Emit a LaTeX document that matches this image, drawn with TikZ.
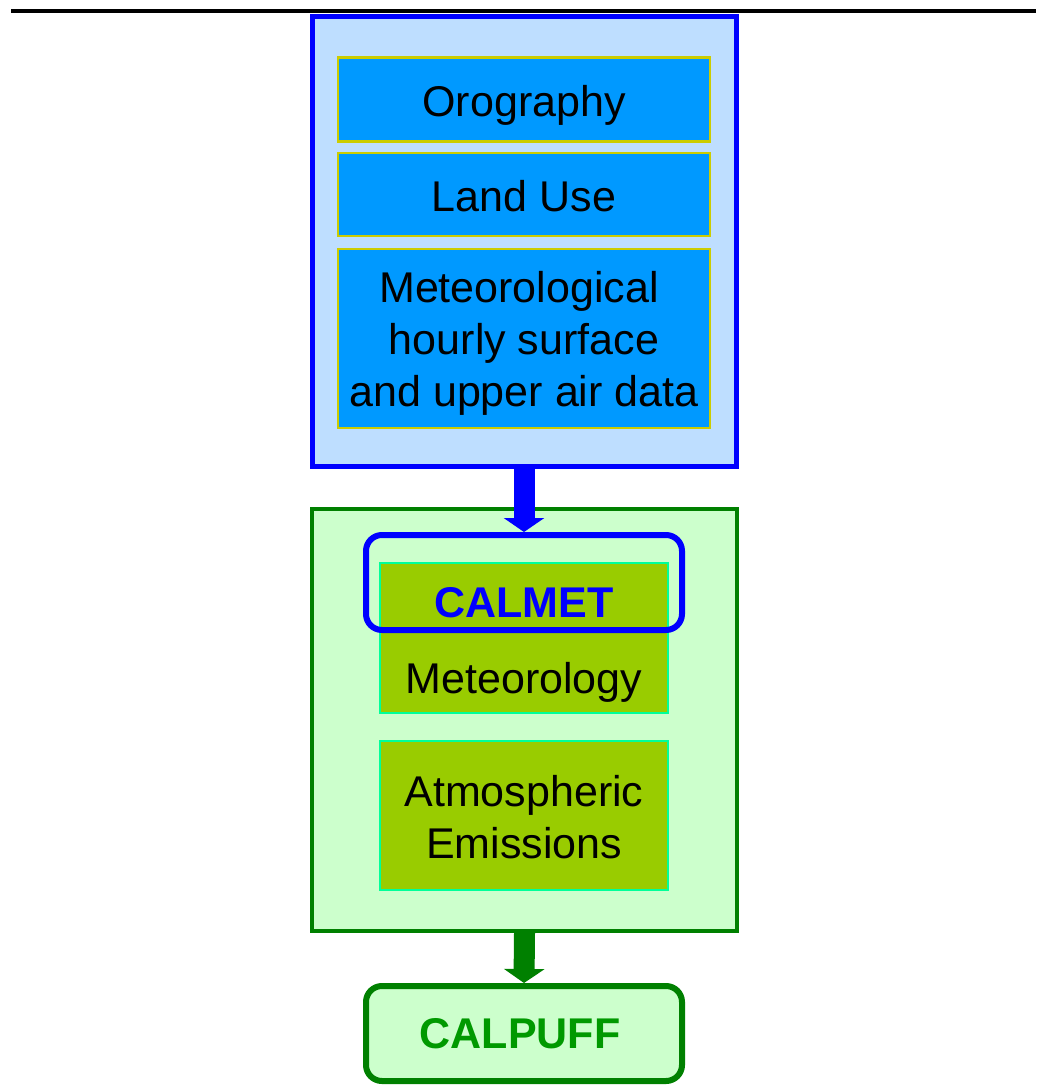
\documentclass[tikz,border=0pt]{standalone}
\usepackage{fontspec}
\setmainfont{Liberation Sans}
\usetikzlibrary{arrows.meta}
\definecolor{paleblue}{RGB}{190,222,255}
\definecolor{skyfill}{RGB}{0,153,255}
\definecolor{olivebd}{RGB}{204,204,0}
\definecolor{palegreen}{RGB}{204,255,204}
\definecolor{darkgreen}{RGB}{0,128,0}
\definecolor{limefill}{RGB}{153,204,0}
\definecolor{aquabd}{RGB}{0,255,153}
\definecolor{puffgreen}{RGB}{0,153,0}
\tikzset{
  bigfont/.style={font=\fontsize{43}{52}\selectfont},
  outerblue/.style={draw=blue, fill=paleblue, line width=5pt, inner sep=0pt},
  outergreen/.style={draw=darkgreen, fill=palegreen, line width=4pt, inner sep=0pt},
  datbox/.style={draw=olivebd, fill=skyfill, line width=2.5pt, inner sep=0pt, minimum width=372pt},
  modbox/.style={draw=aquabd, fill=limefill, line width=2pt, inner sep=0pt, minimum width=288pt},
  lbl/.style={bigfont, inner sep=0pt, align=center},
  flowarrow/.style={line width=21pt, -{Triangle[width=40pt,length=14pt]}},
}
\begin{document}
\begin{tikzpicture}[x=1pt,y=-1pt]
\useasboundingbox (0,0) rectangle (1036,1091);
\coordinate (ls) at (11,11);
\coordinate (le) at (1036,11);
\draw[line width=4pt] (ls) -- (le);

\node[outerblue, minimum width=424pt, minimum height=449pt] (topbox) at (524,241.5) {};
\node[datbox, minimum height=84pt] (oro) at (524,99.5) {};
\node[lbl] (orolbl) at (524,105) {Orography};
\node[datbox, minimum height=83pt] (land) at (524,194.5) {};
\node[lbl] (landlbl) at (524,196.5) {Land Use};
\node[datbox, minimum height=179pt] (met) at (524,338.5) {};
\node[lbl] (metlbl1) at (524,343.5) {Meteorological\hspace*{10pt}\\hourly surface\hspace*{12pt}\\and upper air data};

\node[outergreen, minimum width=425pt, minimum height=422pt] (midbox) at (524.5,720) {};
\node[modbox, minimum height=150pt] (calmetbox) at (524,638) {};
\node[modbox, minimum height=149pt] (emisbox) at (524,815.5) {};
\node[draw=blue, line width=6pt, rounded corners=16pt, minimum width=316pt, minimum height=95pt, inner sep=0pt] (ring) at (524,582.5) {};
\node[lbl, anchor=base, text=blue, font=\fontsize{43}{52}\selectfont\bfseries] (calmetlbl) at (524,617) {CALMET};
\node[lbl, anchor=base] (metlbl) at (524,693) {Meteorology};
\node[lbl] (emislbl) at (524,817) {Atmospheric\\Emissions};

\node[draw=darkgreen, fill=palegreen, line width=6pt, rounded corners=16pt, minimum width=316pt, minimum height=95pt, inner sep=0pt] (calpuff) at (524,1033.5) {};
\node[lbl, text=puffgreen, font=\fontsize{43}{52}\selectfont\bfseries] (calpufflbl) at (520,1034) {CALPUFF};

\draw[flowarrow, blue] (topbox.south) -- (ring.north);
\draw[flowarrow, darkgreen] (midbox.south) -- (calpuff.north);
\end{tikzpicture}
\end{document}
